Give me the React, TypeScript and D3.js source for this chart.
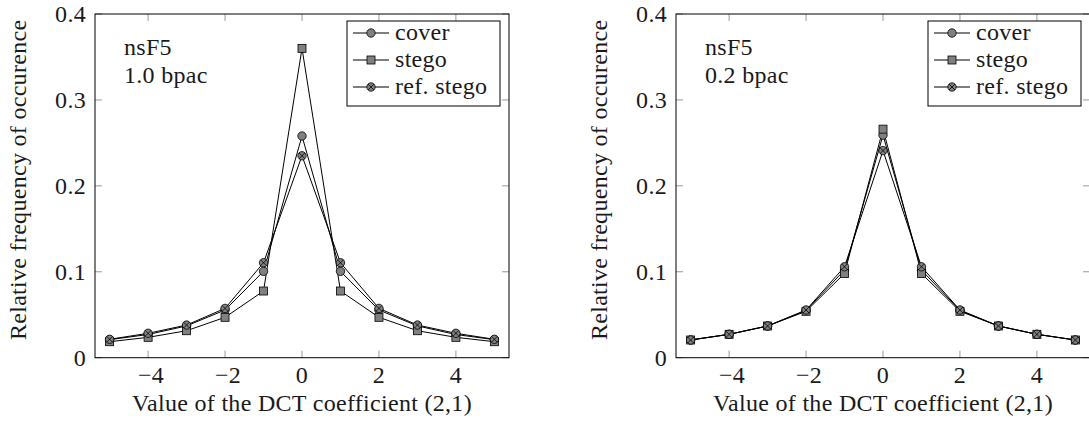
import React from "react";
import * as d3 from "d3";

const coeffs = [-5, -4, -3, -2, -1, 0, 1, 2, 3, 4, 5];

// nsF5, 1.0 bpac
const coverHigh = [0.021, 0.027, 0.037, 0.0555, 0.1005, 0.258, 0.1005, 0.0555, 0.037, 0.027, 0.021];
const stegoHigh = [0.0186, 0.0237, 0.0314, 0.047, 0.0776, 0.36, 0.0776, 0.047, 0.0314, 0.0237, 0.0186];
const refHigh = [0.0214, 0.0284, 0.038, 0.0574, 0.1105, 0.235, 0.1105, 0.0574, 0.038, 0.0284, 0.0214];

// nsF5, 0.2 bpac
const coverLow = [0.0206, 0.0272, 0.0369, 0.055, 0.102, 0.259, 0.102, 0.055, 0.0369, 0.0272, 0.0206];
const stegoLow = [0.0206, 0.0272, 0.0369, 0.054, 0.098, 0.266, 0.098, 0.054, 0.0369, 0.0272, 0.0206];
const refLow = [0.0206, 0.0272, 0.0369, 0.0555, 0.1058, 0.241, 0.1058, 0.0555, 0.0369, 0.0272, 0.0206];

const xTicks = [-4, -2, 0, 2, 4];
const yTicks = [0, 0.1, 0.2, 0.3, 0.4];
const seriesNames = ["cover", "stego", "ref. stego"];

const font = "'Liberation Serif', 'DejaVu Serif', serif";
const fontSize = 24;
const spacing = 0.3;
const markFill = "#808080";

type Shape = "circle" | "square" | "otimes";
const shapes: Shape[] = ["circle", "square", "otimes"];

const Marker: React.FC<{ x: number; y: number; shape: Shape }> = ({ x, y, shape }) => {
  if (shape === "square") {
    return <rect x={x - 4} y={y - 4} width={8} height={8} fill={markFill} stroke="#000" strokeWidth={0.8} />;
  }
  if (shape === "circle") {
    return <circle cx={x} cy={y} r={4.2} fill={markFill} stroke="#000" strokeWidth={0.8} />;
  }
  const d = 4.2 * Math.SQRT1_2;
  return (
    <g>
      <circle cx={x} cy={y} r={4.2} fill={markFill} stroke="#000" strokeWidth={0.8} />
      <line x1={x - d} y1={y - d} x2={x + d} y2={y + d} stroke="#000" strokeWidth={0.8} />
      <line x1={x - d} y1={y + d} x2={x + d} y2={y - d} stroke="#000" strokeWidth={0.8} />
    </g>
  );
};

interface PanelProps {
  left: number;
  series: number[][];
  rate: string;
}

const Panel: React.FC<PanelProps> = ({ left, series, rate }) => {
  const width = 414;
  const top = 14;
  const bottom = 357.7;
  const x = d3.scaleLinear().domain([-5.38, 5.38]).range([left, left + width]);
  const y = d3.scaleLinear().domain([0, 0.4]).range([bottom, top]);
  const line = d3
    .line<number>()
    .x((_, i) => x(coeffs[i]))
    .y((v) => y(v));
  const right = left + width;
  const tickLen = 7;
  const legX = right - 162;
  const legY = 21;

  return (
    <g fontFamily={font} fill="#1a1a1a" fontSize={fontSize} letterSpacing={spacing}>
      {/* ticks, inside, on all four sides */}
      {xTicks.map((t) => (
        <g key={`xt${t}`} stroke="#999" strokeWidth={1}>
          <line x1={x(t)} x2={x(t)} y1={bottom} y2={bottom - tickLen} />
          <line x1={x(t)} x2={x(t)} y1={top} y2={top + tickLen} />
        </g>
      ))}
      {yTicks.map((t) => (
        <g key={`yt${t}`} stroke="#999" strokeWidth={1}>
          <line x1={left} x2={left + tickLen} y1={y(t)} y2={y(t)} />
          <line x1={right} x2={right - tickLen} y1={y(t)} y2={y(t)} />
        </g>
      ))}

      {series.map((s, i) => (
        <path key={`l${i}`} d={line(s) ?? ""} fill="none" stroke="#000" strokeWidth={1} />
      ))}
      {series.map((s, i) =>
        s.map((v, j) => <Marker key={`m${i}-${j}`} x={x(coeffs[j])} y={y(v)} shape={shapes[i]} />)
      )}

      <rect x={left} y={top} width={width} height={bottom - top} fill="none" stroke="#000" strokeWidth={1} />

      {xTicks.map((t) => (
        <text key={`xl${t}`} x={x(t) + (t < 0 ? 3 : 0)} y={383} textAnchor="middle">
          {t < 0 ? `\u2212${Math.abs(t)}` : t}
        </text>
      ))}
      {yTicks.map((t) => (
        <text key={`yl${t}`} x={left - 9} y={y(t) + 8} textAnchor="end">
          {t === 0 ? "0" : t.toFixed(1)}
        </text>
      ))}

      <text x={(left + right) / 2} y={411} textAnchor="middle">
        Value of the DCT coefficient (2,1)
      </text>
      <text
        transform={`translate(${left - 69},${(top + bottom) / 2 - 6}) rotate(-90)`}
        textAnchor="middle"
      >
        Relative frequency of occurence
      </text>

      <text x={left + 29} y={55}>nsF5</text>
      <text x={left + 29} y={83}>{rate}</text>

      <g>
        <rect x={legX} y={legY} width={153} height={85} fill="#fff" stroke="#000" strokeWidth={1} />
        {seriesNames.map((name, i) => {
          const cy = legY + 12 + i * 27;
          return (
            <g key={name}>
              <line x1={legX + 6} x2={legX + 42} y1={cy} y2={cy} stroke="#000" strokeWidth={1} />
              <Marker x={legX + 24} y={cy} shape={shapes[i]} />
              <text x={legX + 48} y={cy + 7}>{name}</text>
            </g>
          );
        })}
      </g>
    </g>
  );
};

export default function App() {
  return (
    <div style={{ position: "absolute", left: 0, top: 0 }}>
      <svg width={1089} height={422} style={{ display: "block", background: "#fff" }}>
        <Panel left={95} series={[coverHigh, stegoHigh, refHigh]} rate="1.0 bpac" />
        <Panel left={676} series={[coverLow, stegoLow, refLow]} rate="0.2 bpac" />
      </svg>
    </div>
  );
}
